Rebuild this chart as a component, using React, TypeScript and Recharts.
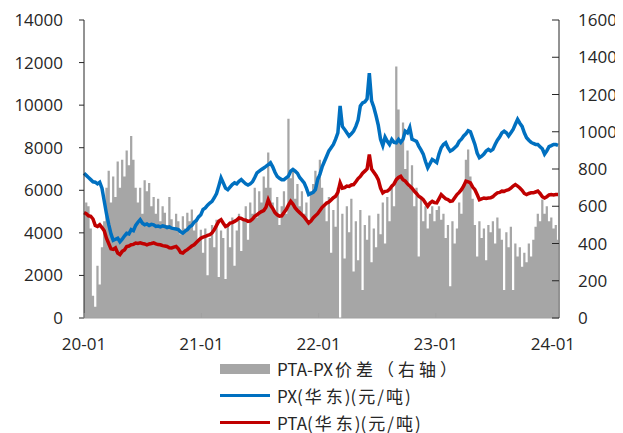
import React from "react";
import { ComposedChart, Line, Area, XAxis, YAxis, Legend } from "recharts";

// Weekly observations starting 2020-01-01 (day offset = week * 7)
const weekStepDays = 7;

const pxPrice = [
  6800, 6700, 6600, 6500, 6400, 6380, 6300, 6380, 6100, 5500,
  4900, 4400, 3950, 3650, 3700, 3750, 3580, 3700, 3850, 3980,
  3950, 4150, 4100, 4350, 4500, 4620, 4450, 4380, 4420, 4350,
  4400, 4380, 4300, 4320, 4280, 4330, 4300, 4250, 4280, 4220,
  4200, 4180, 4150, 4050, 3990, 4080, 4150, 4280, 4350, 4500,
  4580, 4750, 4850, 5100, 5170, 5300, 5400, 5480, 5650, 5850,
  6200, 6580, 6350, 6100, 6030, 6150, 6270, 6350, 6300, 6420,
  6500, 6400, 6300, 6250, 6300, 6400, 6600, 6820, 6900, 6980,
  7050, 7120, 7200, 7290, 7100, 6850, 6650, 6560, 6500, 6500,
  6580, 6660, 6900, 6980, 6900, 6800, 6600, 6480, 6350, 6100,
  5800, 5850, 5900, 6030, 6500, 6750, 7100, 7350, 7600, 7850,
  8000, 8150, 8400, 8700, 9960, 9000, 8860, 8700, 8550, 8650,
  8780, 9000, 9300, 9960, 10100, 10150, 10300, 11500, 10200, 9900,
  9500, 9050, 8400, 8100, 8500, 8300, 8150, 8390, 8250, 8230,
  8390, 8250, 8400, 8780, 8700, 8950, 8400, 8350, 8300, 8075,
  7900, 7700, 7350, 7060, 7250, 7450, 7380, 7300, 7700, 8000,
  8150, 8235, 8000, 7840, 7900, 8000, 8100, 8300, 8400, 8550,
  8650, 8800, 8750, 8450, 8155, 7750, 7530, 7600, 7700, 7850,
  7920, 7850, 7920, 8150, 8350, 8500, 8700, 8780, 8700, 8550,
  8700, 8860, 9100, 9330, 9150, 9000, 8700, 8470, 8350, 8250,
  8200, 8155, 8150, 8050, 7950, 7700, 7850, 8050, 8100, 8155,
  8150, 8110,
];

const ptaPrice = [
  4950, 4900, 4800, 4780, 4650, 4350, 4300, 4380, 4250, 4100,
  3750, 3500, 3250, 3220, 3290, 3050, 2980, 3130, 3200, 3360,
  3380, 3440, 3460, 3520, 3500, 3530, 3500, 3480, 3440, 3480,
  3500, 3530, 3480, 3450, 3440, 3400, 3380, 3360, 3300, 3290,
  3330, 3360, 3250, 3080, 3050, 3150, 3210, 3300, 3380, 3440,
  3550, 3650, 3750, 3800, 3830, 3880, 3910, 4000, 4150, 4350,
  4550, 4620, 4450, 4300, 4350, 4460, 4480, 4540, 4600, 4700,
  4680, 4620, 4600, 4540, 4560, 4650, 4780, 4850, 4935, 5000,
  5050, 5200, 5550, 5300, 5150, 4950, 4850, 4780, 4800, 4950,
  5090, 5300, 5480, 5350, 5170, 5050, 4950, 4850, 4750, 4600,
  4460, 4550, 4700, 4800, 4900, 5050, 5200, 5300, 5400, 5450,
  5550, 5650, 5720, 5900, 6350, 6100, 6120, 6200, 6180, 6250,
  6270, 6400, 6550, 6650, 6800, 6900, 7000, 7680, 7000, 6850,
  6700, 6500, 6100, 5880, 5950, 5960, 6050, 6190, 6300, 6500,
  6600, 6660, 6500, 6430, 6300, 6200, 6100, 5960, 5850, 5720,
  5650, 5560, 5400, 5250, 5400, 5480, 5420, 5405, 5600, 5800,
  5700, 5600, 5560, 5480, 5500, 5650, 5800, 5900, 6030, 6200,
  6430, 6400, 6350, 6150, 6030, 5800, 5560, 5600, 5640, 5620,
  5640, 5650, 5700, 5800, 5880, 5900, 5960, 5950, 6000, 6030,
  6100, 6200, 6270, 6200, 6110, 6000, 5850, 5800, 5850, 5880,
  5880, 5920, 5960, 5850, 5700, 5640, 5700, 5780, 5800, 5780,
  5800, 5800,
];

const ptaPxSpread = [
  560, 620, 600, 480, 120, 60, 280, 180, 380, 520,
  700, 790, 620, 760, 650, 840, 700, 850, 760, 900,
  820, 977, 850, 700, 620, 700, 560, 740, 680, 725,
  600, 650, 560, 640, 520, 600, 565, 500, 650, 530,
  480, 560, 520, 450, 546, 480, 565, 520, 582, 470,
  520, 420, 474, 350, 480, 230, 430, 500, 380, 528,
  220, 470, 430, 210, 500, 380, 540, 280, 470, 560,
  360, 530, 600, 420, 620, 560, 700, 540, 680, 620,
  760, 700, 888, 700, 620, 560, 650, 500, 600, 680,
  560, 1070, 750, 800, 640, 720, 600, 680, 560, 620,
  520, 680, 720, 790, 760, 850, 700, 600, 520, 650,
  350, 580, 490, 700, 0, 560, 320, 600, 460, 640,
  250, 520, 310, 580, 150, 500, 420, 550, 300, 480,
  380, 560, 450, 620, 400, 650, 520, 700, 600, 1350,
  1120, 950, 1050, 800, 900, 700, 820, 600, 700, 330,
  640, 520, 600, 480, 560, 600, 520, 580, 600, 528,
  560, 430, 500, 170, 520, 400, 480, 620, 560, 720,
  850, 905, 760, 640, 500, 330, 520, 430, 480, 310,
  500, 460, 520, 400, 540, 480, 420, 150, 460, 380,
  490, 150, 400, 330, 380, 275, 350, 300, 400, 330,
  420, 490, 560, 520, 636, 560, 600, 520, 540, 480,
  500, 420,
];

const xTickDays = [0, 366, 731, 1096, 1461];
const xTickLabels = ["20-01", "21-01", "22-01", "23-01", "24-01"];
const leftTicks = [0, 2000, 4000, 6000, 8000, 10000, 12000, 14000];
const rightTicks = [0, 200, 400, 600, 800, 1000, 1200, 1400, 1600];

const seriesNames = ["PTA-PX价差（右轴）", "PX(华东)(元/吨)", "PTA(华东)(元/吨)"];

const data = pxPrice.map((px, i) => ({
  d: i * weekStepDays,
  px,
  pta: ptaPrice[i],
  spread: ptaPxSpread[i],
}));

const GRAY = "#A6A6A6";
const BLUE = "#0070C0";
const RED = "#C00000";
const AXIS = "#262626";
const TEXT = "#262626";
const NUM_FONT = "'Open Sans', 'Liberation Sans', sans-serif";
const CJK_FONT = "'Noto Sans CJK SC', 'Open Sans', sans-serif";

const XTick = (props: any) => {
  const { x, y, payload } = props;
  const axisY = y - 20;
  const idx = xTickDays.indexOf(payload.value);
  return (
    <g>
      <line x1={x} x2={x} y1={axisY} y2={axisY - 5} stroke="#A0A0A0" />
      <text x={x} y={y + 12} textAnchor="middle" fontSize={17} fontFamily={NUM_FONT} fill={TEXT}>
        {idx >= 0 ? xTickLabels[idx] : ""}
      </text>
    </g>
  );
};

const RightTick = (props: any) => {
  const { x, y, payload } = props;
  const axisX = x - 19;
  return (
    <g>
      <line x1={axisX} x2={axisX - 7} y1={y} y2={y} stroke={AXIS} />
      <text x={x} y={y} dy="0.36em" textAnchor="start" fontSize={17} fontFamily={NUM_FONT} fill={TEXT}>
        {payload.value}
      </text>
    </g>
  );
};

const SpacedText = ({ text }: { text: string }) => (
  <span>
    {Array.from(text).map((ch, i) => {
      const wide = ch.charCodeAt(0) > 0x2e80;
      return (
        <span key={i} style={{ marginLeft: wide ? 2 : 0, marginRight: wide ? 2 : 0 }}>
          {ch}
        </span>
      );
    })}
  </span>
);

const LegendRow = ({ color, thick, text }: { color: string; thick: number; text: string }) => (
  <div style={{ display: "flex", alignItems: "center", height: 27, whiteSpace: "nowrap" }}>
    <span style={{ display: "inline-block", width: 50, height: thick, background: color, marginRight: 7 }} />
    <SpacedText text={text} />
  </div>
);

const LegendContent = () => (
  <div style={{ fontFamily: CJK_FONT, fontSize: 17, color: TEXT, lineHeight: "26px" }}>
    <LegendRow color={GRAY} thick={10} text={seriesNames[0]} />
    <LegendRow color={BLUE} thick={3} text={seriesNames[1]} />
    <LegendRow color={RED} thick={3} text={seriesNames[2]} />
  </div>
);

export default function App() {
  return (
    <ComposedChart
      width={615}
      height={425}
      data={data}
      margin={{ top: 12, right: 0, bottom: 75, left: 0 }}
    >
      <XAxis
        dataKey="d"
        type="number"
        domain={[0, 1480]}
        ticks={xTickDays}
        tick={<XTick />}
        tickLine={false}
        tickSize={0}
        tickMargin={20}
        height={40}
        stroke="#A0A0A0"
        interval={0}
      />
      <YAxis
        yAxisId="left"
        orientation="left"
        domain={[0, 14000]}
        ticks={leftTicks}
        width={76}
        tickSize={5}
        tickMargin={16}
        stroke={AXIS}
        tick={{ fontSize: 17, fontFamily: NUM_FONT, fill: TEXT }}
        interval={0}
      />
      <YAxis
        yAxisId="right"
        orientation="right"
        domain={[0, 1600]}
        ticks={rightTicks}
        width={64}
        tickSize={0}
        tickMargin={19}
        tickLine={false}
        stroke={AXIS}
        tick={<RightTick />}
        interval={0}
      />
      <Area
        yAxisId="right"
        dataKey="spread"
        type="step"
        stroke="none"
        fill={GRAY}
        fillOpacity={1}
        isAnimationActive={false}
      />
      <Line
        yAxisId="left"
        dataKey="px"
        stroke={BLUE}
        strokeWidth={3.5}
        dot={false}
        type="linear"
        isAnimationActive={false}
      />
      <Line
        yAxisId="left"
        dataKey="pta"
        stroke={RED}
        strokeWidth={3.5}
        dot={false}
        type="linear"
        isAnimationActive={false}
      />
      <Legend
        layout="horizontal"
        verticalAlign="middle"
        align="center"
        content={<LegendContent />}
        wrapperStyle={{ left: 212, top: 347, width: 300 }}
      />
    </ComposedChart>
  );
}
